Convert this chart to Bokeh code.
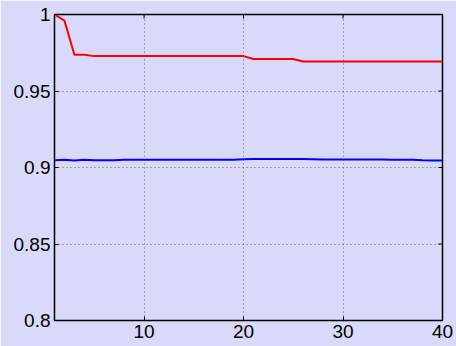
import math
from bokeh.plotting import figure
from bokeh.models import Range1d, FixedTicker, LinearAxis, CustomJSTickFormatter
from bokeh.embed import file_html
from bokeh.resources import INLINE

iterations = list(range(1, 41))
red_series = [1.0, 0.996, 0.9737, 0.9737] + [0.9728] * 16 + [0.9709] * 5 + [0.9693] * 15
blue_series = [0.9048, 0.9050, 0.9046, 0.9050, 0.9048, 0.9048, 0.9048,
               0.9050, 0.9050, 0.9050, 0.9050, 0.9050, 0.9050, 0.9050,
               0.9050, 0.9050, 0.9050, 0.9050, 0.9051, 0.9054, 0.9055,
               0.9055, 0.9055, 0.9055, 0.9055, 0.9055, 0.9054, 0.9053,
               0.9052, 0.9052, 0.9052, 0.9052, 0.9052, 0.9052, 0.9051,
               0.9050, 0.9050, 0.9047, 0.9046, 0.9046]
x_ticks = [10, 20, 30, 40]
y_ticks = [0.8, 0.85, 0.9, 0.95, 1.0]
x_min, x_max = 1, 40
y_min, y_max = 0.8, 1.0

bg = "#d9d9fa"
font = "Liberation Sans"

p = figure(width=456, height=346, x_range=Range1d(x_min, x_max), y_range=Range1d(y_min, y_max),
           output_backend="svg", toolbar_location=None,
           background_fill_color=bg, border_fill_color=bg,
           min_border_left=54, min_border_right=14, min_border_top=14, min_border_bottom=26,
           outline_line_color="black", outline_line_width=1.5,
           x_axis_location=None, y_axis_location=None)

fmt = CustomJSTickFormatter(code="return String(Math.round(tick*100)/100);")

def make_axis(ticks, formatter=None):
    ax = LinearAxis(ticker=FixedTicker(ticks=ticks))
    if formatter is not None:
        ax.formatter = formatter
    ax.axis_line_color = None
    ax.major_tick_in = 4
    ax.major_tick_out = 0
    ax.major_tick_line_color = "black"
    ax.minor_tick_line_color = None
    ax.major_label_text_font = font
    ax.major_label_text_color = "black"
    ax.major_label_text_font_size = "19px"
    ax.major_label_standoff = 4
    return ax

p.add_layout(make_axis(y_ticks, fmt), "left")
p.add_layout(make_axis(x_ticks), "below")

# mirrored inward ticks on the top and right edges (clipped to the frame)
p.scatter([x_max] * len(y_ticks), y_ticks, marker="dash", size=8,
          line_color="black", line_width=1)
p.scatter(x_ticks, [y_max] * len(x_ticks), marker="dash", size=8, angle=math.pi / 2,
          line_color="black", line_width=1)

p.xgrid.ticker = FixedTicker(ticks=x_ticks)
p.ygrid.ticker = FixedTicker(ticks=y_ticks)
for g in (p.xgrid, p.ygrid):
    g.grid_line_color = "black"
    g.grid_line_alpha = 0.55
    g.grid_line_dash = "1 3"
    g.grid_line_width = 1

p.line(iterations, red_series, line_color="#ff0000", line_width=2)
p.line(iterations, blue_series, line_color="#0000ff", line_width=2)

open("out.html", "w").write(file_html(p, INLINE))
